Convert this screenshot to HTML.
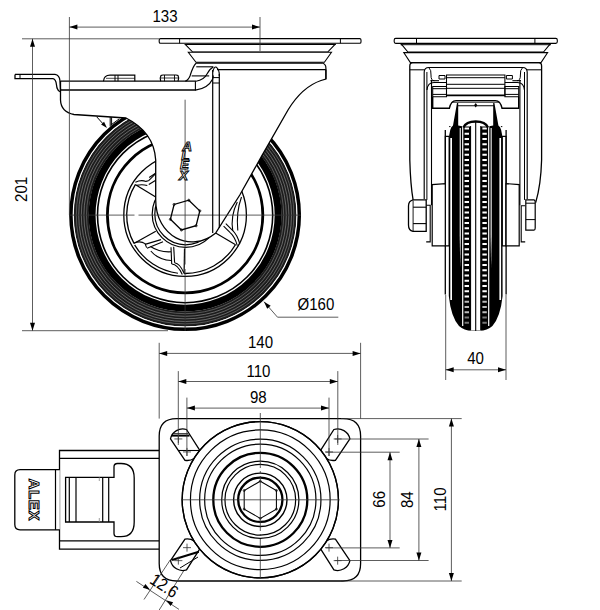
<!DOCTYPE html>
<html><head><meta charset="utf-8"><style>
html,body{margin:0;padding:0;background:#fff;width:600px;height:610px;overflow:hidden}
svg{display:block}
text{font-family:"Liberation Sans",sans-serif}
</style></head><body>
<svg width="600" height="610" viewBox="0 0 600 610" stroke-linecap="butt">
<rect width="600" height="610" fill="#fff"/>
<circle cx="185.1" cy="215.1" r="103.9" fill="none" stroke="#1c1c1c" stroke-width="15.2" />
<circle cx="185.1" cy="215.1" r="98.6" fill="none" stroke="#808080" stroke-width="0.6" />
<circle cx="185.1" cy="215.1" r="101.2" fill="none" stroke="#8a8a8a" stroke-width="0.7" />
<circle cx="185.1" cy="215.1" r="103.8" fill="none" stroke="#858585" stroke-width="0.7" />
<circle cx="185.1" cy="215.1" r="106.4" fill="none" stroke="#8a8a8a" stroke-width="0.7" />
<circle cx="185.1" cy="215.1" r="108.8" fill="none" stroke="#808080" stroke-width="0.6" />
<circle cx="185.1" cy="215.1" r="111.9" fill="none" stroke="#fff" stroke-width="1.1" />
<circle cx="185.1" cy="215.1" r="114.2" fill="none" stroke="#000" stroke-width="3.5" />
<circle cx="185.1" cy="215.1" r="93" fill="none" stroke="#000" stroke-width="6.9" />
<circle cx="185.1" cy="215.1" r="87.6" fill="none" stroke="#000" stroke-width="1.6" />
<circle cx="185.1" cy="215.1" r="77.7" fill="none" stroke="#000" stroke-width="2.8" />
<circle cx="185.1" cy="215.1" r="61.3" fill="none" stroke="#000" stroke-width="1.3" />
<path d="M235.42,244.74 A58.4,58.4 0 0 1 184.08,273.49" fill="none" stroke="#000" stroke-width="1.3" />
<path d="M134.02,243.41 A58.4,58.4 0 0 1 135.31,184.59" fill="none" stroke="#000" stroke-width="1.3" />
<path d="M186.12,156.71 A58.4,58.4 0 0 1 236.18,186.79" fill="none" stroke="#000" stroke-width="1.3" />
<line x1="213.96" y1="232.1" x2="235.59" y2="244.84" stroke="#000" stroke-width="1.2" />
<line x1="184.52" y1="248.59" x2="184.08" y2="273.69" stroke="#000" stroke-width="1.2" />
<line x1="155.8" y1="231.34" x2="133.85" y2="243.51" stroke="#000" stroke-width="1.2" />
<line x1="156.54" y1="197.6" x2="135.14" y2="184.48" stroke="#000" stroke-width="1.2" />
<line x1="185.68" y1="181.61" x2="186.12" y2="156.51" stroke="#000" stroke-width="1.2" />
<line x1="214.4" y1="198.86" x2="236.35" y2="186.69" stroke="#000" stroke-width="1.2" />
<path d="M177.96,273.26 A58.6,58.6 0 0 1 134.61,244.84" fill="none" stroke="#000" stroke-width="1.2" />
<path d="M134.3,242.7 Q141,240.6 145,243.6 L146.6,247.6" fill="none" stroke="#000" stroke-width="1.1" />
<line x1="145" y1="244.4" x2="161" y2="239.6" stroke="#000" stroke-width="1.1" />
<line x1="147" y1="248.3" x2="163" y2="241.8" stroke="#000" stroke-width="1.1" />
<path d="M150.5,246.5 Q159.5,252.5 171,251.8" fill="none" stroke="#000" stroke-width="1.1" />
<path d="M150.8,251 Q158.5,260 171.3,260.5" fill="none" stroke="#000" stroke-width="1.1" />
<line x1="171" y1="247.3" x2="171.7" y2="264" stroke="#000" stroke-width="1.1" />
<line x1="173.7" y1="246.7" x2="174.6" y2="262.7" stroke="#000" stroke-width="1.1" />
<path d="M171.7,264 Q177.7,264.2 182.3,274.5" fill="none" stroke="#000" stroke-width="1.1" />
<path d="M174.6,262.7 Q180,263.5 183.8,272.8" fill="none" stroke="#000" stroke-width="1.1" />
<path d="M135.4,182.2 Q141,179.6 146,181.4 L148.4,180.8" fill="none" stroke="#000" stroke-width="1.1" />
<path d="M136.4,185.4 Q142,184 147.3,185.5" fill="none" stroke="#000" stroke-width="1.1" />
<line x1="148.4" y1="180.8" x2="157" y2="172.3" stroke="#000" stroke-width="1.1" />
<line x1="148.8" y1="184.5" x2="157" y2="179.5" stroke="#000" stroke-width="1.1" />
<line x1="149.2" y1="177.5" x2="157" y2="172.3" stroke="#000" stroke-width="1.1" />
<line x1="223.6" y1="226.2" x2="230.2" y2="232.6" stroke="#000" stroke-width="1.1" />
<line x1="225.8" y1="223.6" x2="232.3" y2="230.2" stroke="#000" stroke-width="1.1" />
<path d="M230.2,232.6 Q235,237 237.3,245.6" fill="none" stroke="#000" stroke-width="1.1" />
<path d="M232.3,230.2 Q237.5,235 239.8,244.2" fill="none" stroke="#000" stroke-width="1.1" />
<path d="M232.8,231 Q230.3,216 237.3,202" fill="none" stroke="#000" stroke-width="1.1" />
<path d="M237.8,230.5 Q236,212 241.5,197" fill="none" stroke="#000" stroke-width="1.1" />
<circle cx="185.6" cy="214" r="33.4" fill="none" stroke="#000" stroke-width="1.2" />
<circle cx="185.6" cy="214" r="30.8" fill="none" stroke="#000" stroke-width="1.2" />
<path d="M60.5,81 L196,81 L212,70 L326,70 L326,79 L321,80.5 Q302,87 288,110 L261.5,156.4 L239.8,195 L215.8,232.9 C190,254 155.7,236 155.7,200 L155.7,160 Q154,132 126,118 L74,114.5 Q61,112 60.5,100 Z" fill="#fff" stroke="none"/>
<path d="M325.9,69.5 L325.9,79 L321,80.5 Q302,87 288,110 L261.5,156.4 L239.8,195 L215.8,232.9 C190,254 155.7,236 155.7,200 L155.7,160 Q154,132 126,118 L74,114.5 Q61,112 60.5,100 L60.5,81" fill="none" stroke="#000" stroke-width="1.3" />
<line x1="185.1" y1="99.7" x2="185.1" y2="264.5" stroke="#333" stroke-width="0.8" />
<line x1="185.1" y1="269" x2="185.1" y2="331" stroke="#333" stroke-width="0.8" />
<line x1="69.3" y1="215.1" x2="134.5" y2="215.1" stroke="#333" stroke-width="0.8" />
<line x1="138.5" y1="215.1" x2="301" y2="215.1" stroke="#333" stroke-width="0.8" />
<line x1="212.7" y1="70" x2="212.7" y2="233" stroke="#000" stroke-width="1.2" />
<line x1="219.3" y1="74" x2="219.3" y2="228" stroke="#000" stroke-width="1.2" />
<path d="M188.8,200.25 L199.81,210.88 L196.11,225.73 L181.4,229.95 L170.39,219.32 L174.09,204.47 Z" fill="none" stroke="#000" stroke-width="1.3" />
<circle cx="188.8" cy="200.25" r="1.1" fill="none" stroke="#000" stroke-width="0.7" />
<circle cx="199.81" cy="210.88" r="1.1" fill="none" stroke="#000" stroke-width="0.7" />
<circle cx="196.11" cy="225.73" r="1.1" fill="none" stroke="#000" stroke-width="0.7" />
<circle cx="181.4" cy="229.95" r="1.1" fill="none" stroke="#000" stroke-width="0.7" />
<circle cx="170.39" cy="219.32" r="1.1" fill="none" stroke="#000" stroke-width="0.7" />
<circle cx="174.09" cy="204.47" r="1.1" fill="none" stroke="#000" stroke-width="0.7" />
<text x="187.2" y="150.8" font-size="13.5" font-weight="bold" font-style="italic" text-anchor="middle" fill="#fff" stroke="#000" stroke-width="0.95">A</text>
<text x="185.3" y="159.6" font-size="13.5" font-weight="bold" font-style="italic" text-anchor="middle" fill="#fff" stroke="#000" stroke-width="0.95">L</text>
<text x="184.6" y="168.8" font-size="13.5" font-weight="bold" font-style="italic" text-anchor="middle" fill="#fff" stroke="#000" stroke-width="0.95">E</text>
<text x="183.6" y="180" font-size="13.5" font-weight="bold" font-style="italic" text-anchor="middle" fill="#fff" stroke="#000" stroke-width="0.95">X</text>
<path d="M160.5,38.6 H359.7 Q361,38.6 361,40 V42 Q361,43.3 359.7,43.3 H160.5 Q159.2,43.3 159.2,42 V40 Q159.2,38.6 160.5,38.6 Z" fill="#fff" stroke="#000" stroke-width="1.1" />
<line x1="179.6" y1="38.6" x2="179.6" y2="43.3" stroke="#000" stroke-width="1.0" />
<line x1="340.4" y1="38.6" x2="340.4" y2="43.3" stroke="#000" stroke-width="1.0" />
<line x1="186.7" y1="44.3" x2="336" y2="44.3" stroke="#000" stroke-width="0.9" />
<path d="M185.3,44.4 L335,44.4 L327.7,52 L192.7,52 Z" fill="#fff" stroke="#000" stroke-width="1.05" />
<path d="M188.3,52.3 L331.5,52.3 L324.4,62.3 L196,62.3 Z" fill="#fff" stroke="#000" stroke-width="1.05" />
<line x1="196" y1="63.2" x2="322" y2="63.2" stroke="#000" stroke-width="1.2" />
<path d="M196,63.2 Q193,66 190,76 Q188,80.5 185.3,81.2" fill="none" stroke="#000" stroke-width="1.2" />
<path d="M196,81.2 Q204,80 207,74 Q209.5,69 213.3,67" fill="none" stroke="#000" stroke-width="1.1" />
<path d="M322,63 Q326,64 325.9,68 L325.9,79" fill="none" stroke="#000" stroke-width="1.2" />
<line x1="217" y1="69.7" x2="325.9" y2="69.7" stroke="#000" stroke-width="1.2" />
<line x1="196.25" y1="66.8" x2="213.3" y2="66.8" stroke="#000" stroke-width="1.1" />
<line x1="191.7" y1="75.9" x2="209.2" y2="75.9" stroke="#000" stroke-width="1.1" />
<path d="M212.7,72 Q214,66.5 216,67 Q219.5,69 219.3,76" fill="none" stroke="#000" stroke-width="1.1" />
<line x1="60.5" y1="81.2" x2="196" y2="81.2" stroke="#000" stroke-width="1.3" />
<line x1="60.5" y1="90" x2="196" y2="90" stroke="#000" stroke-width="1.3" />
<line x1="195.4" y1="81.2" x2="195.4" y2="90" stroke="#000" stroke-width="1.1" />
<line x1="212.7" y1="77.6" x2="219.3" y2="77.6" stroke="#000" stroke-width="1.0" />
<line x1="212.7" y1="83" x2="219.3" y2="83" stroke="#000" stroke-width="1.0" />
<path d="M195.4,90.1 Q208,88.5 212.7,79 L213.3,75.5" fill="none" stroke="#000" stroke-width="1.2" />
<path d="M15,74.4 L55,74.4 Q59.5,75 60,81 L60.5,90" fill="none" stroke="#000" stroke-width="1.3" />
<path d="M15,74.4 L15,78.7 L53,78.7 Q56,79.5 56.5,85 L57,88 Q58,91 60.5,92" fill="none" stroke="#000" stroke-width="1.3" />
<line x1="20" y1="74.4" x2="20" y2="78.7" stroke="#000" stroke-width="1.0" />
<path d="M103.5,81.2 Q104,75.2 110,75.2 L134.8,75.2 L134.8,81.2" fill="none" stroke="#000" stroke-width="1.2" />
<line x1="115" y1="75.2" x2="115" y2="81.2" stroke="#000" stroke-width="1.0" />
<line x1="118" y1="75.2" x2="118" y2="81.2" stroke="#000" stroke-width="1.0" />
<line x1="106" y1="78.3" x2="134.8" y2="78.3" stroke="#000" stroke-width="0.7" />
<path d="M160.7,81.2 Q159.5,78 161,75.5 Q161.5,75 163,75 L176,75 Q177.5,75 178,75.5 Q179.5,78 178,81.2" fill="none" stroke="#000" stroke-width="1.2" />
<line x1="161" y1="78" x2="178" y2="78" stroke="#000" stroke-width="0.8" />
<line x1="164.5" y1="75" x2="164.5" y2="81.2" stroke="#000" stroke-width="0.9" />
<line x1="174.5" y1="75" x2="174.5" y2="81.2" stroke="#000" stroke-width="0.9" />
<line x1="96.7" y1="116.8" x2="103" y2="123.8" stroke="#000" stroke-width="1.0" />
<path d="M107,128 L101.13,124.57 L104.07,121.86 Z" fill="#000" stroke="none"/>
<line x1="110.2" y1="117" x2="110.2" y2="126.5" stroke="#000" stroke-width="1.0" />
<line x1="111.6" y1="117.2" x2="111.6" y2="125.5" stroke="#000" stroke-width="1.0" />
<line x1="111.6" y1="124.5" x2="119.3" y2="118.8" stroke="#000" stroke-width="1.0" />
<line x1="69.4" y1="17" x2="69.4" y2="215" stroke="#333" stroke-width="0.8" />
<line x1="69.4" y1="27.1" x2="260" y2="27.1" stroke="#333" stroke-width="0.8" />
<path d="M69.4,27.1 L77.4,24.6 L77.4,29.6 Z" fill="#000" stroke="none"/>
<path d="M260,27.1 L252,29.6 L252,24.6 Z" fill="#000" stroke="none"/>
<line x1="260" y1="17" x2="260" y2="51" stroke="#333" stroke-width="0.8" />
<text x="0" y="0" font-size="17.3" fill="#000" text-anchor="middle" transform="translate(165,22) scale(0.87,1)" >133</text>
<line x1="22" y1="38.8" x2="159" y2="38.8" stroke="#333" stroke-width="0.8" />
<line x1="22" y1="330.7" x2="168" y2="330.7" stroke="#333" stroke-width="0.8" />
<line x1="32.5" y1="38.8" x2="32.5" y2="330.7" stroke="#333" stroke-width="0.8" />
<path d="M32.5,38.8 L35,46.8 L30,46.8 Z" fill="#000" stroke="none"/>
<path d="M32.5,330.7 L30,322.7 L35,322.7 Z" fill="#000" stroke="none"/>
<text x="0" y="0" font-size="17.3" fill="#000" text-anchor="middle" transform="translate(27.3,189.4) rotate(-90) scale(0.87,1)" >201</text>
<path d="M264,301.7 L277.5,317.2 L338.3,317.2" fill="none" stroke="#333" stroke-width="0.8" />
<path d="M264,301.7 L270.66,305.85 L267.19,308.87 Z" fill="#000" stroke="none"/>
<text x="0" y="0" font-size="17.3" fill="#000" text-anchor="start" transform="translate(297.5,310) scale(0.87,1)" >&#216;160</text>
<line x1="445.3" y1="130" x2="445.3" y2="294.5" stroke="#000" stroke-width="1.3" />
<line x1="506.1" y1="130" x2="506.1" y2="294.5" stroke="#000" stroke-width="1.3" />
<path d="M449,140 Q449.2,128 453,125.5 L457,103 L458.2,103 L458.2,125.5 L463.4,126.5 L488,126.5 L493.2,125.5 L493.2,103 L494.4,103 L498.4,125.5 Q502.2,128 502.4,140 L502.6,296 Q500.4,317 492.4,326 Q487.4,330.6 479.4,330.8 L472,330.8 Q464,330.6 459,326 Q451,317 448.8,296 Z" fill="#000"/>
<rect x="450.3" y="138" width="1.7" height="162" fill="#fff"/>
<rect x="499.4" y="138" width="1.7" height="162" fill="#fff"/>
<rect x="462.1" y="126" width="1.2" height="200" fill="#fff"/>
<rect x="488.1" y="126" width="1.2" height="200" fill="#fff"/>
<path d="M459.7,128 h1.1 V235 L460.25,268 L459.7,235 Z" fill="#fff"/>
<path d="M490.6,128 h1.1 V235 L491.15,268 L490.6,235 Z" fill="#fff"/>
<rect x="470.8" y="118" width="9.8" height="212.5" fill="#fff"/>
<rect x="464.6" y="127.5" width="4.4" height="2.0" fill="#fff"/>
<rect x="464.6" y="132.75" width="4.4" height="2.0" fill="#fff"/>
<rect x="464.6" y="138" width="4.4" height="2.0" fill="#fff"/>
<rect x="464.6" y="143.25" width="4.4" height="2.0" fill="#fff"/>
<rect x="464.6" y="148.5" width="4.4" height="2.0" fill="#fff"/>
<rect x="464.6" y="153.75" width="4.4" height="2.0" fill="#fff"/>
<rect x="464.6" y="159" width="4.4" height="2.0" fill="#fff"/>
<rect x="464.6" y="164.25" width="4.4" height="2.0" fill="#fff"/>
<rect x="464.6" y="169.5" width="4.4" height="2.0" fill="#fff"/>
<rect x="464.6" y="174.75" width="4.4" height="2.0" fill="#fff"/>
<rect x="464.6" y="180" width="4.4" height="2.0" fill="#fff"/>
<rect x="464.6" y="185.25" width="4.4" height="2.0" fill="#fff"/>
<rect x="464.6" y="190.5" width="4.4" height="2.0" fill="#fff"/>
<rect x="464.6" y="195.75" width="4.4" height="2.0" fill="#fff"/>
<rect x="464.6" y="201" width="4.4" height="2.0" fill="#fff"/>
<rect x="464.6" y="206.25" width="4.4" height="2.0" fill="#fff"/>
<rect x="464.6" y="211.5" width="4.4" height="2.0" fill="#fff"/>
<rect x="464.6" y="216.75" width="4.4" height="2.0" fill="#fff"/>
<rect x="464.6" y="222" width="4.4" height="2.0" fill="#fff"/>
<rect x="464.6" y="227.25" width="4.4" height="2.0" fill="#fff"/>
<rect x="464.6" y="232.5" width="4.4" height="2.0" fill="#fff"/>
<rect x="464.6" y="237.75" width="4.4" height="2.0" fill="#fff"/>
<rect x="464.6" y="243" width="4.4" height="2.0" fill="#fff"/>
<rect x="464.6" y="248.25" width="4.4" height="2.0" fill="#fff"/>
<rect x="464.6" y="253.5" width="4.4" height="2.0" fill="#fff"/>
<rect x="464.6" y="258.75" width="4.4" height="2.0" fill="#fff"/>
<rect x="464.6" y="264" width="4.4" height="2.0" fill="#fff"/>
<rect x="464.6" y="269.25" width="4.4" height="2.0" fill="#fff"/>
<rect x="464.6" y="274.5" width="4.4" height="2.0" fill="#fff"/>
<rect x="464.6" y="279.75" width="4.4" height="2.0" fill="#fff"/>
<rect x="464.6" y="285" width="4.4" height="2.0" fill="#fff"/>
<rect x="464.6" y="290.25" width="4.4" height="2.0" fill="#fff"/>
<rect x="464.6" y="295.5" width="4.4" height="2.0" fill="#fff"/>
<rect x="464.6" y="300.75" width="4.4" height="2.0" fill="#bbb"/>
<rect x="464.6" y="306" width="4.4" height="2.0" fill="#bbb"/>
<rect x="464.6" y="311.25" width="4.4" height="2.0" fill="#bbb"/>
<rect x="464.6" y="316.5" width="4.4" height="2.0" fill="#777"/>
<rect x="464.6" y="321.75" width="4.4" height="2.0" fill="#777"/>
<rect x="482.4" y="127.5" width="4.4" height="2.0" fill="#fff"/>
<rect x="482.4" y="132.75" width="4.4" height="2.0" fill="#fff"/>
<rect x="482.4" y="138" width="4.4" height="2.0" fill="#fff"/>
<rect x="482.4" y="143.25" width="4.4" height="2.0" fill="#fff"/>
<rect x="482.4" y="148.5" width="4.4" height="2.0" fill="#fff"/>
<rect x="482.4" y="153.75" width="4.4" height="2.0" fill="#fff"/>
<rect x="482.4" y="159" width="4.4" height="2.0" fill="#fff"/>
<rect x="482.4" y="164.25" width="4.4" height="2.0" fill="#fff"/>
<rect x="482.4" y="169.5" width="4.4" height="2.0" fill="#fff"/>
<rect x="482.4" y="174.75" width="4.4" height="2.0" fill="#fff"/>
<rect x="482.4" y="180" width="4.4" height="2.0" fill="#fff"/>
<rect x="482.4" y="185.25" width="4.4" height="2.0" fill="#fff"/>
<rect x="482.4" y="190.5" width="4.4" height="2.0" fill="#fff"/>
<rect x="482.4" y="195.75" width="4.4" height="2.0" fill="#fff"/>
<rect x="482.4" y="201" width="4.4" height="2.0" fill="#fff"/>
<rect x="482.4" y="206.25" width="4.4" height="2.0" fill="#fff"/>
<rect x="482.4" y="211.5" width="4.4" height="2.0" fill="#fff"/>
<rect x="482.4" y="216.75" width="4.4" height="2.0" fill="#fff"/>
<rect x="482.4" y="222" width="4.4" height="2.0" fill="#fff"/>
<rect x="482.4" y="227.25" width="4.4" height="2.0" fill="#fff"/>
<rect x="482.4" y="232.5" width="4.4" height="2.0" fill="#fff"/>
<rect x="482.4" y="237.75" width="4.4" height="2.0" fill="#fff"/>
<rect x="482.4" y="243" width="4.4" height="2.0" fill="#fff"/>
<rect x="482.4" y="248.25" width="4.4" height="2.0" fill="#fff"/>
<rect x="482.4" y="253.5" width="4.4" height="2.0" fill="#fff"/>
<rect x="482.4" y="258.75" width="4.4" height="2.0" fill="#fff"/>
<rect x="482.4" y="264" width="4.4" height="2.0" fill="#fff"/>
<rect x="482.4" y="269.25" width="4.4" height="2.0" fill="#fff"/>
<rect x="482.4" y="274.5" width="4.4" height="2.0" fill="#fff"/>
<rect x="482.4" y="279.75" width="4.4" height="2.0" fill="#fff"/>
<rect x="482.4" y="285" width="4.4" height="2.0" fill="#fff"/>
<rect x="482.4" y="290.25" width="4.4" height="2.0" fill="#fff"/>
<rect x="482.4" y="295.5" width="4.4" height="2.0" fill="#fff"/>
<rect x="482.4" y="300.75" width="4.4" height="2.0" fill="#bbb"/>
<rect x="482.4" y="306" width="4.4" height="2.0" fill="#bbb"/>
<rect x="482.4" y="311.25" width="4.4" height="2.0" fill="#bbb"/>
<rect x="482.4" y="316.5" width="4.4" height="2.0" fill="#777"/>
<rect x="482.4" y="321.75" width="4.4" height="2.0" fill="#777"/>
<line x1="475.7" y1="121.5" x2="475.7" y2="331" stroke="#000" stroke-width="1.1" />
<line x1="470.6" y1="126" x2="470.6" y2="330" stroke="#000" stroke-width="1.0" />
<line x1="480.8" y1="126" x2="480.8" y2="330" stroke="#000" stroke-width="1.0" />
<path d="M463.4,127.5 Q466,121.5 475.7,121.5 Q485.4,121.5 488,127.5" fill="none" stroke="#000" stroke-width="2.3" />
<rect x="463.4" y="125" width="24.6" height="2" fill="none"/>
<path d="M395.7,38.4 H555.8 Q557.3,38.4 557.3,40 V41.8 Q557.3,43.4 555.8,43.4 H395.7 Q394.2,43.4 394.2,41.8 V40 Q394.2,38.4 395.7,38.4 Z" fill="#fff" stroke="#000" stroke-width="1.1" />
<line x1="416.5" y1="38.4" x2="416.5" y2="43.4" stroke="#000" stroke-width="1.0" />
<line x1="534.9" y1="38.4" x2="534.9" y2="43.4" stroke="#000" stroke-width="1.0" />
<line x1="400.8" y1="44.7" x2="550.6" y2="44.7" stroke="#000" stroke-width="1.0" />
<path d="M400.8,43.4 H550.6 L543.5,52 H407.9 Z" fill="#fff" stroke="#000" stroke-width="1.05" />
<line x1="400.8" y1="44.7" x2="550.6" y2="44.7" stroke="#000" stroke-width="1.0" />
<path d="M403.75,52.6 H547.65 L541,62.6 H410.4 Z" fill="#fff" stroke="#000" stroke-width="1.05" />
<path d="M413.1,199.9 Q410.5,185 409.8,160 L409.8,66 Q409.8,62.6 412.8,62.6 H538.6 Q541.6,62.6 541.6,66 L541.6,160 Q540.9,185 535.7,202.6" fill="none" stroke="#000" stroke-width="1.3" />
<line x1="409.8" y1="69.8" x2="424.7" y2="69.8" stroke="#000" stroke-width="1.05" />
<line x1="541.6" y1="69.8" x2="526.7" y2="69.8" stroke="#000" stroke-width="1.05" />
<path d="M424.2,199 L424.2,72 Q424.5,67.5 428.7,67.5 H522.7 Q526.9,67.5 527.2,72 L527.2,199" fill="none" stroke="#000" stroke-width="1.15" />
<path d="M428.7,67.5 Q431.5,70 431,75 Q430.8,80.7 434.4,80.7" fill="none" stroke="#000" stroke-width="1.0" />
<path d="M522.7,67.5 Q519.9,70 520.4,75 Q520.6,80.7 517,80.7" fill="none" stroke="#000" stroke-width="1.0" />
<line x1="426.9" y1="72" x2="426.9" y2="199.9" stroke="#000" stroke-width="1.0" />
<line x1="524.5" y1="72" x2="524.5" y2="199.9" stroke="#000" stroke-width="1.0" />
<path d="M446.5,74.9 H504.9 V95.6 H446.5 Z" fill="#fff" stroke="#000" stroke-width="1.05" />
<line x1="446.5" y1="77.7" x2="504.9" y2="77.7" stroke="#000" stroke-width="1.0" />
<line x1="446.5" y1="84.3" x2="504.9" y2="84.3" stroke="#000" stroke-width="1.0" />
<line x1="446.5" y1="88.3" x2="504.9" y2="88.3" stroke="#000" stroke-width="1.0" />
<line x1="446.5" y1="95" x2="504.9" y2="95" stroke="#000" stroke-width="1.0" />
<path d="M439,75.5 H445 V79 H439 Z" fill="none" stroke="#000" stroke-width="1.0" />
<path d="M512.4,75.5 H506.4 V79 H512.4 Z" fill="none" stroke="#000" stroke-width="1.0" />
<line x1="430.4" y1="80.7" x2="439" y2="80.7" stroke="#000" stroke-width="1.1" />
<line x1="521" y1="80.7" x2="512.4" y2="80.7" stroke="#000" stroke-width="1.1" />
<path d="M432.7,86.4 H446.5 V96.7 H432.7 Z" fill="none" stroke="#000" stroke-width="1.05" />
<path d="M518.7,86.4 H504.9 V96.7 H518.7 Z" fill="none" stroke="#000" stroke-width="1.05" />
<line x1="432.7" y1="88.7" x2="446.5" y2="88.7" stroke="#000" stroke-width="1.0" />
<line x1="518.7" y1="88.7" x2="504.9" y2="88.7" stroke="#000" stroke-width="1.0" />
<line x1="432.7" y1="94.4" x2="446.5" y2="94.4" stroke="#000" stroke-width="1.0" />
<line x1="518.7" y1="94.4" x2="504.9" y2="94.4" stroke="#000" stroke-width="1.0" />
<path d="M427,90 Q427.5,82.4 434,82.4 H446.5" fill="none" stroke="#000" stroke-width="1.05" />
<path d="M524.4,90 Q523.9,82.4 517.4,82.4 H504.9" fill="none" stroke="#000" stroke-width="1.05" />
<path d="M432.7,96.7 V108.2 H449.4 Q451,100.6 456,100.6 H495.4 Q500.4,100.6 502,108.2 H518.7 V96.7" fill="none" stroke="#000" stroke-width="1.4" />
<line x1="457.4" y1="105.8" x2="494" y2="105.8" stroke="#000" stroke-width="1.1" />
<line x1="452" y1="102.2" x2="499.4" y2="102.2" stroke="#000" stroke-width="0.9" />
<path d="M475.7,103 L477.3,105.2 L475.7,107.4 L474.09999999999997,105.2 Z" fill="#000"/>
<path d="M445.3,136.4 H449.1 V245.9 H445.3 Z" fill="none" stroke="#000" stroke-width="1.1" />
<path d="M506.1,136.4 H502.3 V245.9 H506.1 Z" fill="none" stroke="#000" stroke-width="1.1" />
<path d="M432.2,245.9 V184.6 L445.3,183.6 V245.9 Z" fill="#fff" stroke="#000" stroke-width="1.2" />
<path d="M519.2,245.9 V184.6 L506.1,183.6 V245.9 Z" fill="#fff" stroke="#000" stroke-width="1.2" />
<line x1="449.1" y1="126.6" x2="450.5" y2="126.6" stroke="#000" stroke-width="1.0" />
<line x1="502.3" y1="126.6" x2="500.9" y2="126.6" stroke="#000" stroke-width="1.0" />
<path d="M426.2,205.2 H430.2 V241.9 H426.2" fill="none" stroke="#000" stroke-width="1.1" />
<line x1="431.5" y1="80" x2="431.5" y2="205.2" stroke="#000" stroke-width="1.1" />
<line x1="519.9" y1="80" x2="519.9" y2="205.2" stroke="#000" stroke-width="1.1" />
<path d="M525.2,205.8 H521.2 V241.9 H525.2" fill="none" stroke="#000" stroke-width="1.1" />
<path d="M426.2,199.9 H413 Q408.5,201 408.5,206 V225 Q408.5,230.5 413,231.4 H426.2 Z" fill="#fff" stroke="#000" stroke-width="1.3" />
<line x1="413.1" y1="200.5" x2="413.1" y2="231" stroke="#000" stroke-width="0.9" />
<line x1="413.1" y1="207.2" x2="426.2" y2="207.2" stroke="#000" stroke-width="1.1" />
<line x1="413.1" y1="223.6" x2="426.2" y2="223.6" stroke="#000" stroke-width="1.1" />
<path d="M525.8,199.9 H534 Q535.2,200 535.2,202 V228 Q535.2,230.1 534,230.1 H525.8 Z" fill="#fff" stroke="#000" stroke-width="1.2" />
<line x1="525.8" y1="203.2" x2="535.2" y2="203.2" stroke="#000" stroke-width="1.0" />
<line x1="525.8" y1="219.6" x2="535.2" y2="219.6" stroke="#000" stroke-width="1.0" />
<line x1="445.7" y1="294.8" x2="445.7" y2="380" stroke="#333" stroke-width="0.8" />
<line x1="506" y1="294.8" x2="506" y2="380" stroke="#333" stroke-width="0.8" />
<line x1="445.7" y1="369.8" x2="506" y2="369.8" stroke="#333" stroke-width="0.8" />
<path d="M445.7,369.8 L453.7,367.3 L453.7,372.3 Z" fill="#000" stroke="none"/>
<path d="M506,369.8 L498,372.3 L498,367.3 Z" fill="#000" stroke="none"/>
<text x="0" y="0" font-size="17.3" fill="#000" text-anchor="middle" transform="translate(475.6,364) scale(0.87,1)" >40</text>
<path d="M159.2,450.5 H59.5 V549.1 H159.2" fill="#fff" stroke="#000" stroke-width="1.3" />
<line x1="59.5" y1="458.4" x2="159.2" y2="458.4" stroke="#000" stroke-width="1.2" />
<line x1="59.5" y1="540.8" x2="159.2" y2="540.8" stroke="#000" stroke-width="1.2" />
<path d="M59.8,469.7 H20 Q14.8,469.7 14.8,475 V524.6 Q14.8,529.8 20,529.8 H59.8" fill="#fff" stroke="#000" stroke-width="1.3" />
<line x1="55.5" y1="469.7" x2="55.5" y2="529.8" stroke="#000" stroke-width="1.2" />
<text x="0" y="0" font-size="15" font-weight="bold" letter-spacing="0.6" fill="#fff" stroke="#000" stroke-width="1.0" text-anchor="middle" transform="translate(29,499.8) rotate(90)">ALEX</text>
<path d="M114,477.3 H65.6 V522 H114 V533.5 Q114,536.7 117.5,536.7 H121 Q134.2,536.7 134.2,522 V478 Q134.2,463.5 121,463.5 H117.5 Q114,463.5 114,466.7 Z" fill="#fff" stroke="#000" stroke-width="1.3" />
<line x1="69.3" y1="477.3" x2="69.3" y2="522" stroke="#000" stroke-width="1.2" />
<line x1="76" y1="477.3" x2="76" y2="522" stroke="#000" stroke-width="1.2" />
<line x1="102.7" y1="477.3" x2="102.7" y2="522" stroke="#000" stroke-width="1.2" />
<line x1="108.7" y1="477.3" x2="108.7" y2="522" stroke="#000" stroke-width="1.2" />
<line x1="99.3" y1="477.3" x2="99.3" y2="481" stroke="#888" stroke-width="0.8" />
<line x1="99.3" y1="518" x2="99.3" y2="522" stroke="#888" stroke-width="0.8" />
<path d="M176.5,418.6 H343 Q360.6,418.6 360.6,436 V563.5 Q360.6,581 343,581 H176.5 Q159.2,581 159.2,563.5 V436 Q159.2,418.6 176.5,418.6 Z" fill="#fff" stroke="#000" stroke-width="1.3" />
<path d="M186.5,429.5 L199.5,450 A12.5,12.5 0 0 1 185,460.3 L170.5,438.8 A12.5,12.5 0 0 1 186.5,429.5 Z" fill="#fff" stroke="#000" stroke-width="1.3" />
<path d="M170.5,560.6 L185,539.1 A12.5,12.5 0 0 1 199.5,549.4 L186.5,569.9 A12.5,12.5 0 0 1 170.5,560.6 Z" fill="#fff" stroke="#000" stroke-width="1.3" />
<path d="M349.9,438.8 L335.4,460.3 A12.5,12.5 0 0 1 320.9,450 L333.9,429.5 A12.5,12.5 0 0 1 349.9,438.8 Z" fill="#fff" stroke="#000" stroke-width="1.3" />
<path d="M333.9,569.9 L320.9,549.4 A12.5,12.5 0 0 1 335.4,539.1 L349.9,560.6 A12.5,12.5 0 0 1 333.9,569.9 Z" fill="#fff" stroke="#000" stroke-width="1.3" />
<line x1="171.5" y1="435.6" x2="189.5" y2="435.6" stroke="#000" stroke-width="2.0" />
<line x1="174" y1="433.6" x2="188" y2="433.6" stroke="#000" stroke-width="0.8" />
<line x1="179" y1="450.5" x2="199.5" y2="450.5" stroke="#000" stroke-width="1.1" />
<line x1="172" y1="560" x2="198.8" y2="551.7" stroke="#000" stroke-width="2.0" />
<line x1="180" y1="568" x2="198" y2="557" stroke="#000" stroke-width="1.0" />
<circle cx="260.3" cy="499.8" r="78.15" fill="#fff" stroke="#000" stroke-width="1.3" />
<circle cx="260.3" cy="499.8" r="78.15" fill="none" stroke="#000" stroke-width="1.3" />
<circle cx="260.3" cy="499.8" r="69.85" fill="none" stroke="#000" stroke-width="1.2" />
<circle cx="260.3" cy="499.8" r="60.65" fill="none" stroke="#000" stroke-width="1.2" />
<circle cx="260.3" cy="499.8" r="55.65" fill="none" stroke="#000" stroke-width="1.2" />
<circle cx="260.3" cy="499.8" r="47" fill="none" stroke="#000" stroke-width="2.3" />
<circle cx="260.3" cy="499.8" r="38.6" fill="none" stroke="#000" stroke-width="1.2" />
<circle cx="260.3" cy="499.8" r="35.35" fill="none" stroke="#000" stroke-width="1.2" />
<circle cx="260.3" cy="499.8" r="26.7" fill="none" stroke="#000" stroke-width="1.4" />
<circle cx="260.3" cy="499.8" r="22.15" fill="none" stroke="#000" stroke-width="2.3" />
<path d="M260.3,481.2 L276.41,490.5 L276.41,509.1 L260.3,518.4 L244.19,509.1 L244.19,490.5 Z" fill="none" stroke="#000" stroke-width="1.05" />
<circle cx="260.3" cy="481.2" r="1" fill="none" stroke="#000" stroke-width="0.7" />
<circle cx="276.41" cy="490.5" r="1" fill="none" stroke="#000" stroke-width="0.7" />
<circle cx="276.41" cy="509.1" r="1" fill="none" stroke="#000" stroke-width="0.7" />
<circle cx="260.3" cy="518.4" r="1" fill="none" stroke="#000" stroke-width="0.7" />
<circle cx="244.19" cy="509.1" r="1" fill="none" stroke="#000" stroke-width="0.7" />
<circle cx="244.19" cy="490.5" r="1" fill="none" stroke="#000" stroke-width="0.7" />
<line x1="260.3" y1="413" x2="260.3" y2="578.3" stroke="#333" stroke-width="0.8" stroke-dasharray="55,3,2,3"/>
<line x1="181" y1="499.8" x2="339.5" y2="499.8" stroke="#333" stroke-width="0.8" stroke-dasharray="37,2.5,2,3.5,"/>
<line x1="174.35" y1="438.95" x2="182.35" y2="438.95" stroke="#333" stroke-width="0.8" />
<line x1="178.35" y1="434.95" x2="178.35" y2="442.95" stroke="#333" stroke-width="0.8" />
<line x1="183" y1="451.95" x2="191" y2="451.95" stroke="#333" stroke-width="0.8" />
<line x1="187" y1="447.95" x2="187" y2="455.95" stroke="#333" stroke-width="0.8" />
<line x1="174.35" y1="560.65" x2="182.35" y2="560.65" stroke="#333" stroke-width="0.8" />
<line x1="178.35" y1="556.65" x2="178.35" y2="564.65" stroke="#333" stroke-width="0.8" />
<line x1="183" y1="547.65" x2="191" y2="547.65" stroke="#333" stroke-width="0.8" />
<line x1="187" y1="543.65" x2="187" y2="551.65" stroke="#333" stroke-width="0.8" />
<line x1="333.65" y1="438.95" x2="341.65" y2="438.95" stroke="#333" stroke-width="0.8" />
<line x1="337.65" y1="434.95" x2="337.65" y2="442.95" stroke="#333" stroke-width="0.8" />
<line x1="325" y1="451.95" x2="333" y2="451.95" stroke="#333" stroke-width="0.8" />
<line x1="329" y1="447.95" x2="329" y2="455.95" stroke="#333" stroke-width="0.8" />
<line x1="333.65" y1="560.65" x2="341.65" y2="560.65" stroke="#333" stroke-width="0.8" />
<line x1="337.65" y1="556.65" x2="337.65" y2="564.65" stroke="#333" stroke-width="0.8" />
<line x1="325" y1="547.65" x2="333" y2="547.65" stroke="#333" stroke-width="0.8" />
<line x1="329" y1="543.65" x2="329" y2="551.65" stroke="#333" stroke-width="0.8" />
<line x1="159.2" y1="342.8" x2="159.2" y2="418.6" stroke="#333" stroke-width="0.8" />
<line x1="360.6" y1="342.8" x2="360.6" y2="418.6" stroke="#333" stroke-width="0.8" />
<line x1="159.2" y1="353.4" x2="360.6" y2="353.4" stroke="#333" stroke-width="0.8" />
<path d="M159.2,353.4 L167.2,350.9 L167.2,355.9 Z" fill="#000" stroke="none"/>
<path d="M360.6,353.4 L352.6,355.9 L352.6,350.9 Z" fill="#000" stroke="none"/>
<text x="0" y="0" font-size="17.3" fill="#000" text-anchor="middle" transform="translate(260.5,348) scale(0.87,1)" >140</text>
<line x1="178.3" y1="371.1" x2="178.3" y2="445" stroke="#333" stroke-width="0.8" />
<line x1="337.8" y1="371.1" x2="337.8" y2="445" stroke="#333" stroke-width="0.8" />
<line x1="178.3" y1="381.5" x2="337.8" y2="381.5" stroke="#333" stroke-width="0.8" />
<path d="M178.3,381.5 L186.3,379 L186.3,384 Z" fill="#000" stroke="none"/>
<path d="M337.8,381.5 L329.8,384 L329.8,379 Z" fill="#000" stroke="none"/>
<text x="0" y="0" font-size="17.3" fill="#000" text-anchor="middle" transform="translate(258.4,376.6) scale(0.87,1)" >110</text>
<line x1="186.9" y1="397.6" x2="186.9" y2="456" stroke="#333" stroke-width="0.8" />
<line x1="329" y1="397.6" x2="329" y2="456" stroke="#333" stroke-width="0.8" />
<line x1="186.9" y1="408.1" x2="329" y2="408.1" stroke="#333" stroke-width="0.8" />
<path d="M186.9,408.1 L194.9,405.6 L194.9,410.6 Z" fill="#000" stroke="none"/>
<path d="M329,408.1 L321,410.6 L321,405.6 Z" fill="#000" stroke="none"/>
<text x="0" y="0" font-size="17.3" fill="#000" text-anchor="middle" transform="translate(258.3,403) scale(0.87,1)" >98</text>
<line x1="341" y1="418.6" x2="461.7" y2="418.6" stroke="#333" stroke-width="0.8" />
<line x1="341" y1="581" x2="461.7" y2="581" stroke="#333" stroke-width="0.8" />
<line x1="451.4" y1="418.6" x2="451.4" y2="581" stroke="#333" stroke-width="0.8" />
<path d="M451.4,418.6 L453.9,426.6 L448.9,426.6 Z" fill="#000" stroke="none"/>
<path d="M451.4,581 L448.9,573 L453.9,573 Z" fill="#000" stroke="none"/>
<text x="0" y="0" font-size="17.3" fill="#000" text-anchor="middle" transform="translate(446,499.4) rotate(-90) scale(0.87,1)" >110</text>
<line x1="334.8" y1="439" x2="428.6" y2="439" stroke="#333" stroke-width="0.8" />
<line x1="334.8" y1="560.5" x2="428.6" y2="560.5" stroke="#333" stroke-width="0.8" />
<line x1="418.9" y1="439" x2="418.9" y2="560.5" stroke="#333" stroke-width="0.8" />
<path d="M418.9,439 L421.4,447 L416.4,447 Z" fill="#000" stroke="none"/>
<path d="M418.9,560.5 L416.4,552.5 L421.4,552.5 Z" fill="#000" stroke="none"/>
<text x="0" y="0" font-size="17.3" fill="#000" text-anchor="middle" transform="translate(413.3,499.7) rotate(-90) scale(0.87,1)" >84</text>
<line x1="325.7" y1="452.2" x2="399.7" y2="452.2" stroke="#333" stroke-width="0.8" />
<line x1="325.7" y1="547.9" x2="399.7" y2="547.9" stroke="#333" stroke-width="0.8" />
<line x1="390" y1="452.2" x2="390" y2="547.9" stroke="#333" stroke-width="0.8" />
<path d="M390,452.2 L392.5,460.2 L387.5,460.2 Z" fill="#000" stroke="none"/>
<path d="M390,547.9 L387.5,539.9 L392.5,539.9 Z" fill="#000" stroke="none"/>
<text x="0" y="0" font-size="17.3" fill="#000" text-anchor="middle" transform="translate(384.7,499.3) rotate(-90) scale(0.87,1)" >66</text>
<line x1="170.3" y1="559.8" x2="144" y2="599.5" stroke="#333" stroke-width="0.8" />
<line x1="183.7" y1="570.9" x2="159.2" y2="610" stroke="#333" stroke-width="0.8" />
<line x1="136.4" y1="581.4" x2="179" y2="609.4" stroke="#333" stroke-width="0.8" />
<path d="M150,589.7 L142.89,587.77 L145.42,583.93 Z" fill="#000" stroke="none"/>
<path d="M166,600.3 L173.11,602.23 L170.58,606.07 Z" fill="#000" stroke="none"/>
<text x="0" y="0" font-size="17.3" fill="#000" text-anchor="middle" transform="translate(161,590.5) rotate(33.5) scale(0.87,1)" >12.6</text>
</svg></body></html>
